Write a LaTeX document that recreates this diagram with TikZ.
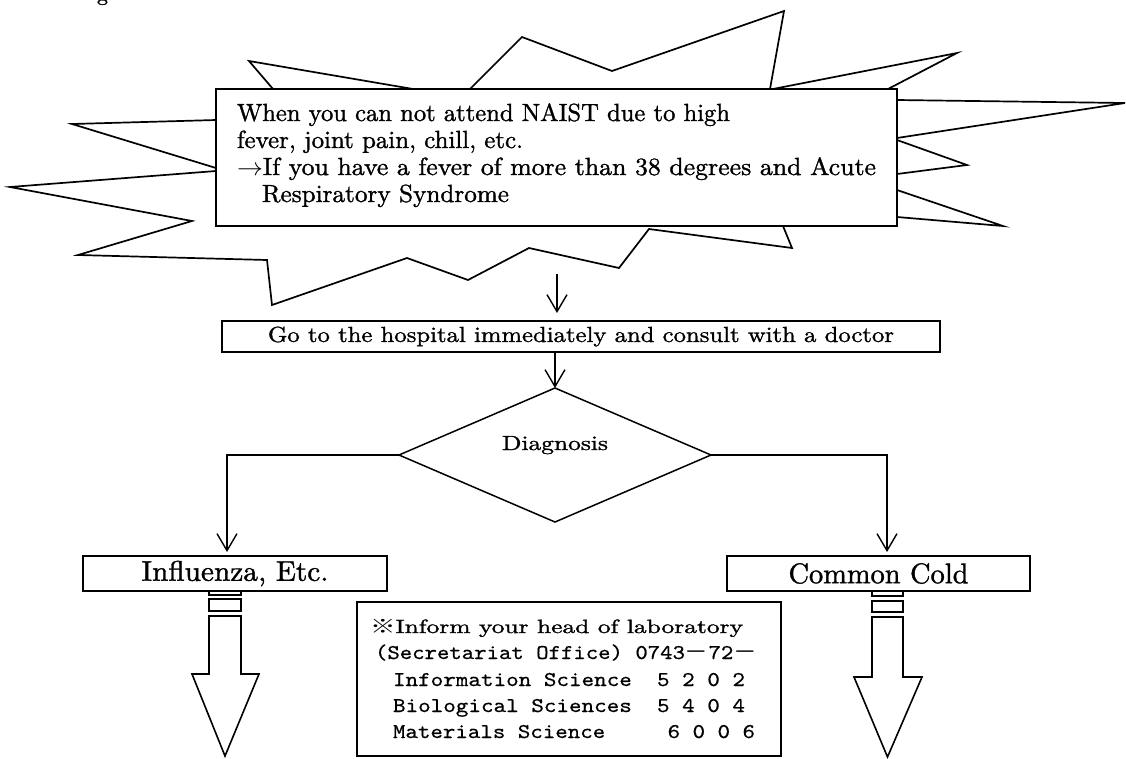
\documentclass[tikz,border=0pt]{standalone}
\usepackage{fontspec}
\usepackage{graphicx}
\setmainfont{lmroman10-regular}[Extension=.otf, Ligatures=TeX, FakeBold=1.2]
\setmonofont{lmmono10-regular}[Extension=.otf, FakeBold=0.5]
\newfontfamily\jpfont{Noto Sans CJK JP}
\usetikzlibrary{arrows.meta,shapes.geometric}
\newcommand\fitw[2]{\resizebox{#1}{\height}{#2}}
\begin{document}
\begin{tikzpicture}[x=1pt,y=-1pt,
  every node/.style={inner sep=0pt, outer sep=0pt},
  outline/.style={draw=black, line width=1.7pt, line join=miter},
  boxed/.style={draw=black, line width=1.7pt, fill=white, rectangle},
  conn/.style={draw=black, line width=1.4pt, -{Straight Barb[length=17pt,width=20pt]}},
  bigarrow/.style={draw=black, line width=1.6pt, fill=white},
  boxtext/.style={font=\fontsize{24.8}{27}\selectfont, anchor=base west},
  tt/.style={font=\fontsize{21}{26}\selectfont\ttfamily, anchor=base west},
]
\fill[white] (0,0) rectangle (1126,758);
\useasboundingbox (0,0) rectangle (1126,758);

% cut-off fragment at the top edge
\node[anchor=base west, font=\fontsize{22}{22}\selectfont] (frag) at (97,0.5) {g};

% starburst
\draw[outline, fill=white] (273,89) -- (249,61) -- (413,89) -- (470,89) -- (522,37) -- (612,71) -- (784,11) -- (770,89) -- (773,89) -- (957,53) -- (888,89) -- (897,100) -- (1125,103) -- (897,138) -- (897,140) -- (967,165) -- (897,174) -- (897,190) -- (1003,226) -- (897,217) -- (783,226) -- (792,248) -- (649,229) -- (619,268) -- (529,248) -- (468,280) -- (407,258) -- (272,305) -- (267,260) -- (78,255) -- (192,221) -- (10,187) -- (216,171) -- (216,168) -- (72,124) -- (216,120) -- cycle;

% warning box
\node[boxed, minimum width=681pt, minimum height=137pt] (warn) at (556.5,157.5) {};
\node[boxtext] (w1) at (237,121) {\fitw{493pt}{When you can not attend NAIST due to high}};
\node[boxtext] (w2) at (237,148) {\fitw{286pt}{fever, joint pain, chill, etc.}};
\node[boxtext] (w3) at (237,175) {\fitw{639pt}{$\rightarrow$If you have a fever of more than 38 degrees and Acute}};
\node[boxtext] (w4) at (262,202) {\fitw{247pt}{Respiratory Syndrome}};

\coordinate (burstout) at (557,274);

% go box
\node[boxed, minimum width=718pt, minimum height=31pt, font=\fontsize{21.8}{21.8}\selectfont] (go) at (581,336.5) {\fitw{626pt}{Go to the hospital immediately and consult with a doctor}};

% diamond
\node[diamond, draw=black, line width=1.5pt, minimum width=312pt, minimum height=134pt] (dia) at (555,455) {};
\node[anchor=base, font=\fontsize{20.5}{20.5}\selectfont] (diagt) at (555,450) {\fitw{106pt}{Diagnosis}};

% block arrows
\draw[bigarrow] (209,589) rectangle (241,595);
\draw[bigarrow] (209,599) rectangle (241,611);
\draw[bigarrow] (209,616) -- (241,616) -- (241,674) -- (259,674) -- (225,756) -- (192,674) -- (209,674) -- cycle;
\draw[bigarrow] (872,590) rectangle (903,596);
\draw[bigarrow] (872,601) rectangle (903,612);
\draw[bigarrow] (872,617) -- (903,617) -- (903,677) -- (922,677) -- (887.5,757) -- (854,677) -- (872,677) -- cycle;

% result boxes
\node[boxed, minimum width=304pt, minimum height=35pt, font=\fontsize{28.5}{28.5}\selectfont] (infl) at (235,573.5) {\fitw{187pt}{Influenza, Etc.}};
\node[boxed, minimum width=303pt, minimum height=35pt, font=\fontsize{28.5}{28.5}\selectfont] (cold) at (878.5,573.5) {\fitw{180pt}{Common Cold}};

% connectors
\draw[conn, shorten >=8pt] (burstout) -- (burstout |- go.north);
\draw[conn] (go.south -| dia.north) -- (dia.north);
\draw[conn, shorten >=4pt] (dia.west) -| ([xshift=-8pt]infl.north);
\draw[conn, shorten >=4pt] (dia.east) -| ([xshift=8.5pt]cold.north);

% info box
\node[draw=black, line width=1.5pt, minimum width=424pt, minimum height=154pt] (info) at (569,679) {};
\node[anchor=base west, font=\fontsize{19.2}{20}\selectfont] (i1) at (370,633) {\fitw{373pt}{{\jpfont ※}Inform your head of laboratory}};
\node[tt] (i2) at (375,659) {\fitw{382pt}{(Secretariat Office) 0743{\jpfont －}72{\jpfont －}}};
\node[tt] (i3) at (393,686) {\fitw{352pt}{Information Science\ \ 5\ 2\ 0\ 2}};
\node[tt] (i4) at (393,712) {\fitw{352pt}{Biological Sciences\ \ 5\ 4\ 0\ 4}};
\node[tt] (i5) at (393,738) {\fitw{362pt}{Materials Science\ \ \ \ \ 6\ 0\ 0\ 6}};
\end{tikzpicture}
\end{document}
